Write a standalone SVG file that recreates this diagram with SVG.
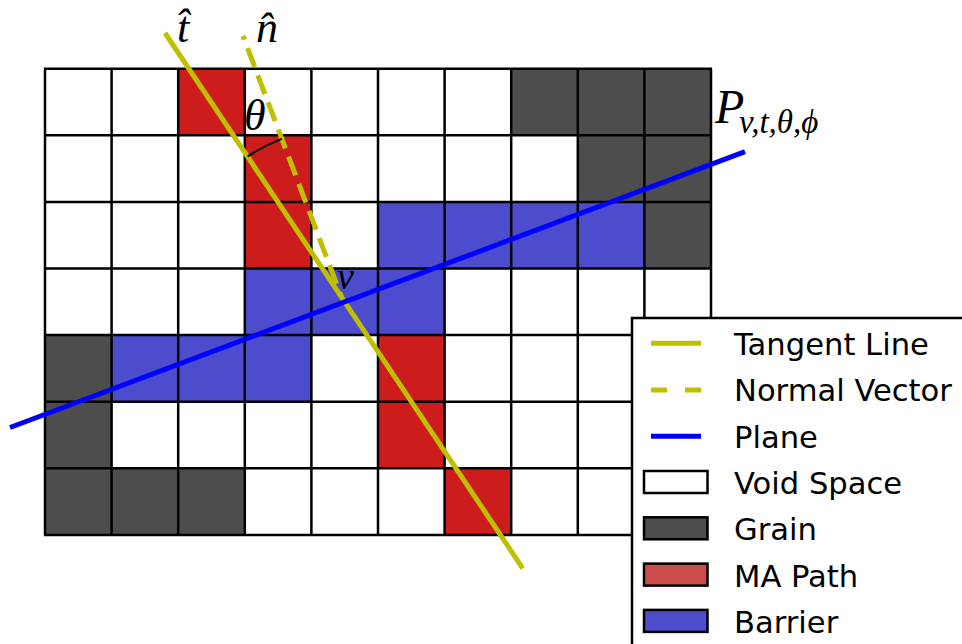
<svg xmlns="http://www.w3.org/2000/svg" width="962" height="644" viewBox="0 0 962 644">
<style>
.g{fill:#4d4d4d}
.r{fill:#cc1c1c}
.b{fill:#4c4ccc}
.grid{fill:none;stroke:#000;stroke-width:2.5}
.tan{stroke:#bfbf00;stroke-width:5;fill:none}
.nor{stroke:#bfbf00;stroke-width:5;fill:none;stroke-dasharray:20 9}
.pl{stroke:#0000ff;stroke-width:5;fill:none}
.math{font-family:"Liberation Serif","DejaVu Serif",serif;font-style:italic;fill:#000}
.lt{font-family:"DejaVu Sans",sans-serif;font-size:30.6px;fill:#000}
.lr{stroke:#000;stroke-width:2.5}
</style>
<rect width="962" height="644" fill="#ffffff"/>
<g id="cells">
<rect class="r" x="178.2" y="68.7" width="66.6" height="66.6"/>
<rect class="g" x="511.2" y="68.7" width="66.6" height="66.6"/>
<rect class="g" x="577.8" y="68.7" width="66.6" height="66.6"/>
<rect class="g" x="644.4" y="68.7" width="66.6" height="66.6"/>
<rect class="r" x="244.8" y="135.3" width="66.6" height="66.6"/>
<rect class="g" x="577.8" y="135.3" width="66.6" height="66.6"/>
<rect class="g" x="644.4" y="135.3" width="66.6" height="66.6"/>
<rect class="r" x="244.8" y="201.9" width="66.6" height="66.6"/>
<rect class="b" x="378" y="201.9" width="66.6" height="66.6"/>
<rect class="b" x="444.6" y="201.9" width="66.6" height="66.6"/>
<rect class="b" x="511.2" y="201.9" width="66.6" height="66.6"/>
<rect class="b" x="577.8" y="201.9" width="66.6" height="66.6"/>
<rect class="g" x="644.4" y="201.9" width="66.6" height="66.6"/>
<rect class="b" x="244.8" y="268.5" width="66.6" height="66.6"/>
<rect class="b" x="311.4" y="268.5" width="66.6" height="66.6"/>
<rect class="b" x="378" y="268.5" width="66.6" height="66.6"/>
<rect class="g" x="45" y="335.1" width="66.6" height="66.6"/>
<rect class="b" x="111.6" y="335.1" width="66.6" height="66.6"/>
<rect class="b" x="178.2" y="335.1" width="66.6" height="66.6"/>
<rect class="b" x="244.8" y="335.1" width="66.6" height="66.6"/>
<rect class="r" x="378" y="335.1" width="66.6" height="66.6"/>
<rect class="g" x="45" y="401.7" width="66.6" height="66.6"/>
<rect class="r" x="378" y="401.7" width="66.6" height="66.6"/>
<rect class="g" x="45" y="468.3" width="66.6" height="66.6"/>
<rect class="g" x="111.6" y="468.3" width="66.6" height="66.6"/>
<rect class="g" x="178.2" y="468.3" width="66.6" height="66.6"/>
<rect class="r" x="444.6" y="468.3" width="66.6" height="66.6"/>
</g>
<path class="grid" d="M45 68.7V534.9M111.6 68.7V534.9M178.2 68.7V534.9M244.8 68.7V534.9M311.4 68.7V534.9M378 68.7V534.9M444.6 68.7V534.9M511.2 68.7V534.9M577.8 68.7V534.9M644.4 68.7V534.9M711 68.7V534.9M44 68.7H712M44 135.3H712M44 201.9H712M44 268.5H712M44 335.1H712M44 401.7H712M44 468.3H712M44 534.9H712"/>
<g id="connectors">
<line class="tan" x1="165" y1="33" x2="522.7" y2="568.3"/>
<line class="nor" x1="243" y1="36" x2="341.5" y2="297" stroke-dashoffset="16"/>
<line class="pl" x1="10" y1="427.5" x2="745" y2="151.7"/>
<path d="M247.6 156.5 A169 169 0 0 1 281.8 138.9" fill="none" stroke="#000" stroke-width="2"/>
</g>
<g id="labels">
<text class="math" x="177" y="42" font-size="44">t̂</text>
<text class="math" x="256" y="42" font-size="44">n̂</text>
<text class="math" x="244" y="130" font-size="44">θ</text>
<text class="math" x="337" y="289" font-size="38">v</text>
<text class="math" x="715" y="123" font-size="48">P<tspan x="739" y="133" font-size="33">v,t,θ,ϕ</tspan></text>
</g>
<g id="legend">
<rect x="632" y="318" width="340" height="340" fill="#ffffff" stroke="#000" stroke-width="2.5"/>
<line x1="651" y1="343.3" x2="701" y2="343.3" stroke="#bfbf00" stroke-width="5"/>
<line x1="651" y1="390" x2="701" y2="390" stroke="#bfbf00" stroke-width="5" stroke-dasharray="16 18"/>
<line x1="651" y1="436.3" x2="701" y2="436.3" stroke="#0000ff" stroke-width="5"/>
<rect class="lr" x="644" y="471" width="63.5" height="22" fill="#ffffff"/>
<rect class="lr" x="644" y="517.3" width="63.5" height="22" fill="#4d4d4d"/>
<rect class="lr" x="644" y="563.6" width="63.5" height="22" fill="#cc4c4c"/>
<rect class="lr" x="644" y="609.9" width="63.5" height="22" fill="#4c4ccc"/>
<text class="lt" x="734" y="355">Tangent Line</text>
<text class="lt" x="734" y="401.3">Normal Vector</text>
<text class="lt" x="734" y="447.6">Plane</text>
<text class="lt" x="734" y="493.9">Void Space</text>
<text class="lt" x="734" y="540.2">Grain</text>
<text class="lt" x="734" y="586.5">MA Path</text>
<text class="lt" x="734" y="632.8">Barrier</text>
</g>
</svg>
